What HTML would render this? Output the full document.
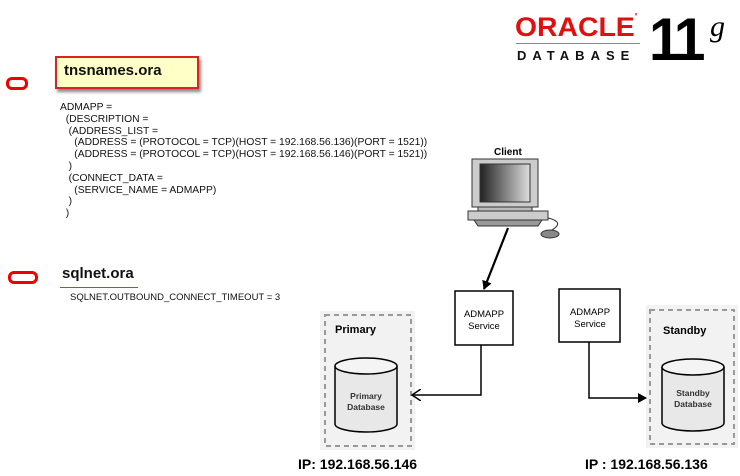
<!DOCTYPE html>
<html><head><meta charset="utf-8"><style>
body{margin:0;width:740px;height:476px;background:#fff;position:relative;overflow:hidden;font-family:"Liberation Sans",Arial,sans-serif}
.a{position:absolute;white-space:pre}
.code{font-size:10.3px;line-height:11.8px;left:60px;top:102px;color:#111}
</style></head><body>
<div class="a" style="left:515px;top:12px;font-size:27px;font-weight:bold;color:#e01010;letter-spacing:0px;transform:scaleX(1.05);transform-origin:left">ORACLE<span style="font-size:10px;vertical-align:top">'</span></div>
<div class="a" style="left:516px;top:43px;width:124px;height:1px;background:#888"></div>
<div class="a" style="left:517px;top:48px;font-size:13px;font-weight:bold;letter-spacing:6px;color:#111">DATABASE</div>
<div class="a" style="left:649px;top:5px;font-size:60px;font-weight:bold;letter-spacing:-4px;color:#000;transform:scaleX(0.95);transform-origin:left">11</div>
<div class="a" style="left:710px;top:10px;font-size:30px;font-style:italic;font-family:'Liberation Serif',serif">g</div>

<div class="a" style="left:6px;top:77px;width:16px;height:7px;border:3px solid #e00;border-radius:6px"></div>
<div class="a" style="left:55px;top:56px;width:140px;height:29px;background:#ffffc8;border:2px solid #d22;box-shadow:2px 3px 3px #888"></div>
<div class="a" style="left:64px;top:62px;font-size:15px;font-weight:bold;color:#111">tnsnames.ora</div>
<div class="a code">ADMAPP =
  (DESCRIPTION =
   (ADDRESS_LIST =
     (ADDRESS = (PROTOCOL = TCP)(HOST = 192.168.56.136)(PORT = 1521))
     (ADDRESS = (PROTOCOL = TCP)(HOST = 192.168.56.146)(PORT = 1521))
   )
   (CONNECT_DATA =
     (SERVICE_NAME = ADMAPP)
   )
  )</div>

<div class="a" style="left:8px;top:271px;width:24px;height:7px;border:3px solid #e00;border-radius:6px"></div>
<div class="a" style="left:62px;top:265px;font-size:15px;font-weight:bold;color:#111">sqlnet.ora</div>
<div class="a" style="left:60px;top:287px;width:78px;height:1px;background:#d33"></div>
<div class="a" style="left:70px;top:292px;font-size:9.5px;color:#111">SQLNET.OUTBOUND_CONNECT_TIMEOUT = 3</div>

<svg class="a" style="left:0;top:0" width="740" height="476">
<defs><linearGradient id="sc" x1="0" x2="1"><stop offset="0" stop-color="#222"/><stop offset="1" stop-color="#ddd"/></linearGradient>
<marker id="ar" markerWidth="10" markerHeight="10" refX="8" refY="5" orient="auto" markerUnits="userSpaceOnUse"><path d="M0,0 L9,5 L0,10 z" fill="#000"/></marker>
<marker id="ao" markerWidth="12" markerHeight="12" refX="9" refY="6" orient="auto" markerUnits="userSpaceOnUse"><path d="M0,0 L9,6 L0,12" fill="none" stroke="#000" stroke-width="1.5"/></marker></defs>
<text x="494" y="155" font-size="10" font-weight="bold">Client</text>
<rect x="472" y="159" width="66" height="48" fill="#ccc" stroke="#333"/>
<rect x="480" y="164" width="50" height="38" fill="url(#sc)" stroke="#333"/>
<rect x="478" y="207" width="54" height="4" fill="#bbb" stroke="#333"/>
<rect x="468" y="211" width="80" height="9" fill="#ccc" stroke="#333"/>
<path d="M474 220 L542 220 L538 226 L478 226 z" fill="#999" stroke="#333"/>
<path d="M548 218 Q565 222 552 230" fill="none" stroke="#333"/>
<ellipse cx="550" cy="234" rx="9" ry="4" fill="#888" stroke="#333"/>
<line x1="508" y1="228" x2="484" y2="289" stroke="#000" stroke-width="2.2" marker-end="url(#ar)"/>
<rect x="455" y="291" width="58" height="54" fill="#fff" stroke="#000" stroke-width="1.5"/>
<text x="484" y="317" font-size="9.5" text-anchor="middle">ADMAPP</text><text x="484" y="329" font-size="9.5" text-anchor="middle">Service</text>
<rect x="559" y="289" width="61" height="53" fill="#fff" stroke="#000" stroke-width="1.5"/>
<text x="590" y="315" font-size="9.5" text-anchor="middle">ADMAPP</text><text x="590" y="327" font-size="9.5" text-anchor="middle">Service</text>
<rect x="320" y="311" width="95" height="139" fill="#f2f2f2"/>
<rect x="325" y="315" width="86" height="131" fill="none" stroke="#999" stroke-width="2" stroke-dasharray="5,4"/>
<text x="335" y="333" font-size="11" font-weight="bold">Primary</text>
<rect x="646" y="305" width="92" height="143" fill="#f2f2f2"/>
<rect x="650" y="310" width="84" height="134" fill="none" stroke="#999" stroke-width="2" stroke-dasharray="5,4"/>
<text x="663" y="334" font-size="11" font-weight="bold">Standby</text>
<path d="M335 366 L335 424 A31 8 0 0 0 397 424 L397 366" fill="#e8e8e8" stroke="#000" stroke-width="1.5"/>
<ellipse cx="366" cy="366" rx="31" ry="8" fill="#f4f4f4" stroke="#000" stroke-width="1.5"/>
<text x="366" y="399" font-size="8.5" font-weight="bold" text-anchor="middle" fill="#333">Primary</text><text x="366" y="410" font-size="8.5" font-weight="bold" text-anchor="middle" fill="#333">Database</text>
<path d="M662 367 L662 423 A31 8 0 0 0 724 423 L724 367" fill="#e8e8e8" stroke="#000" stroke-width="1.5"/>
<ellipse cx="693" cy="367" rx="31" ry="8" fill="#f4f4f4" stroke="#000" stroke-width="1.5"/>
<text x="693" y="396" font-size="8.5" font-weight="bold" text-anchor="middle" fill="#333">Standby</text><text x="693" y="407" font-size="8.5" font-weight="bold" text-anchor="middle" fill="#333">Database</text>
<polyline points="481,345 481,395 412,395" fill="none" stroke="#000" stroke-width="1.5" marker-end="url(#ao)"/>
<polyline points="589,342 589,398 646,398" fill="none" stroke="#000" stroke-width="1.5" marker-end="url(#ar)"/>
<text x="298" y="469" font-size="14" font-weight="bold">IP: 192.168.56.146</text>
<text x="585" y="469" font-size="14" font-weight="bold">IP : 192.168.56.136</text>
</svg>
</body></html>
